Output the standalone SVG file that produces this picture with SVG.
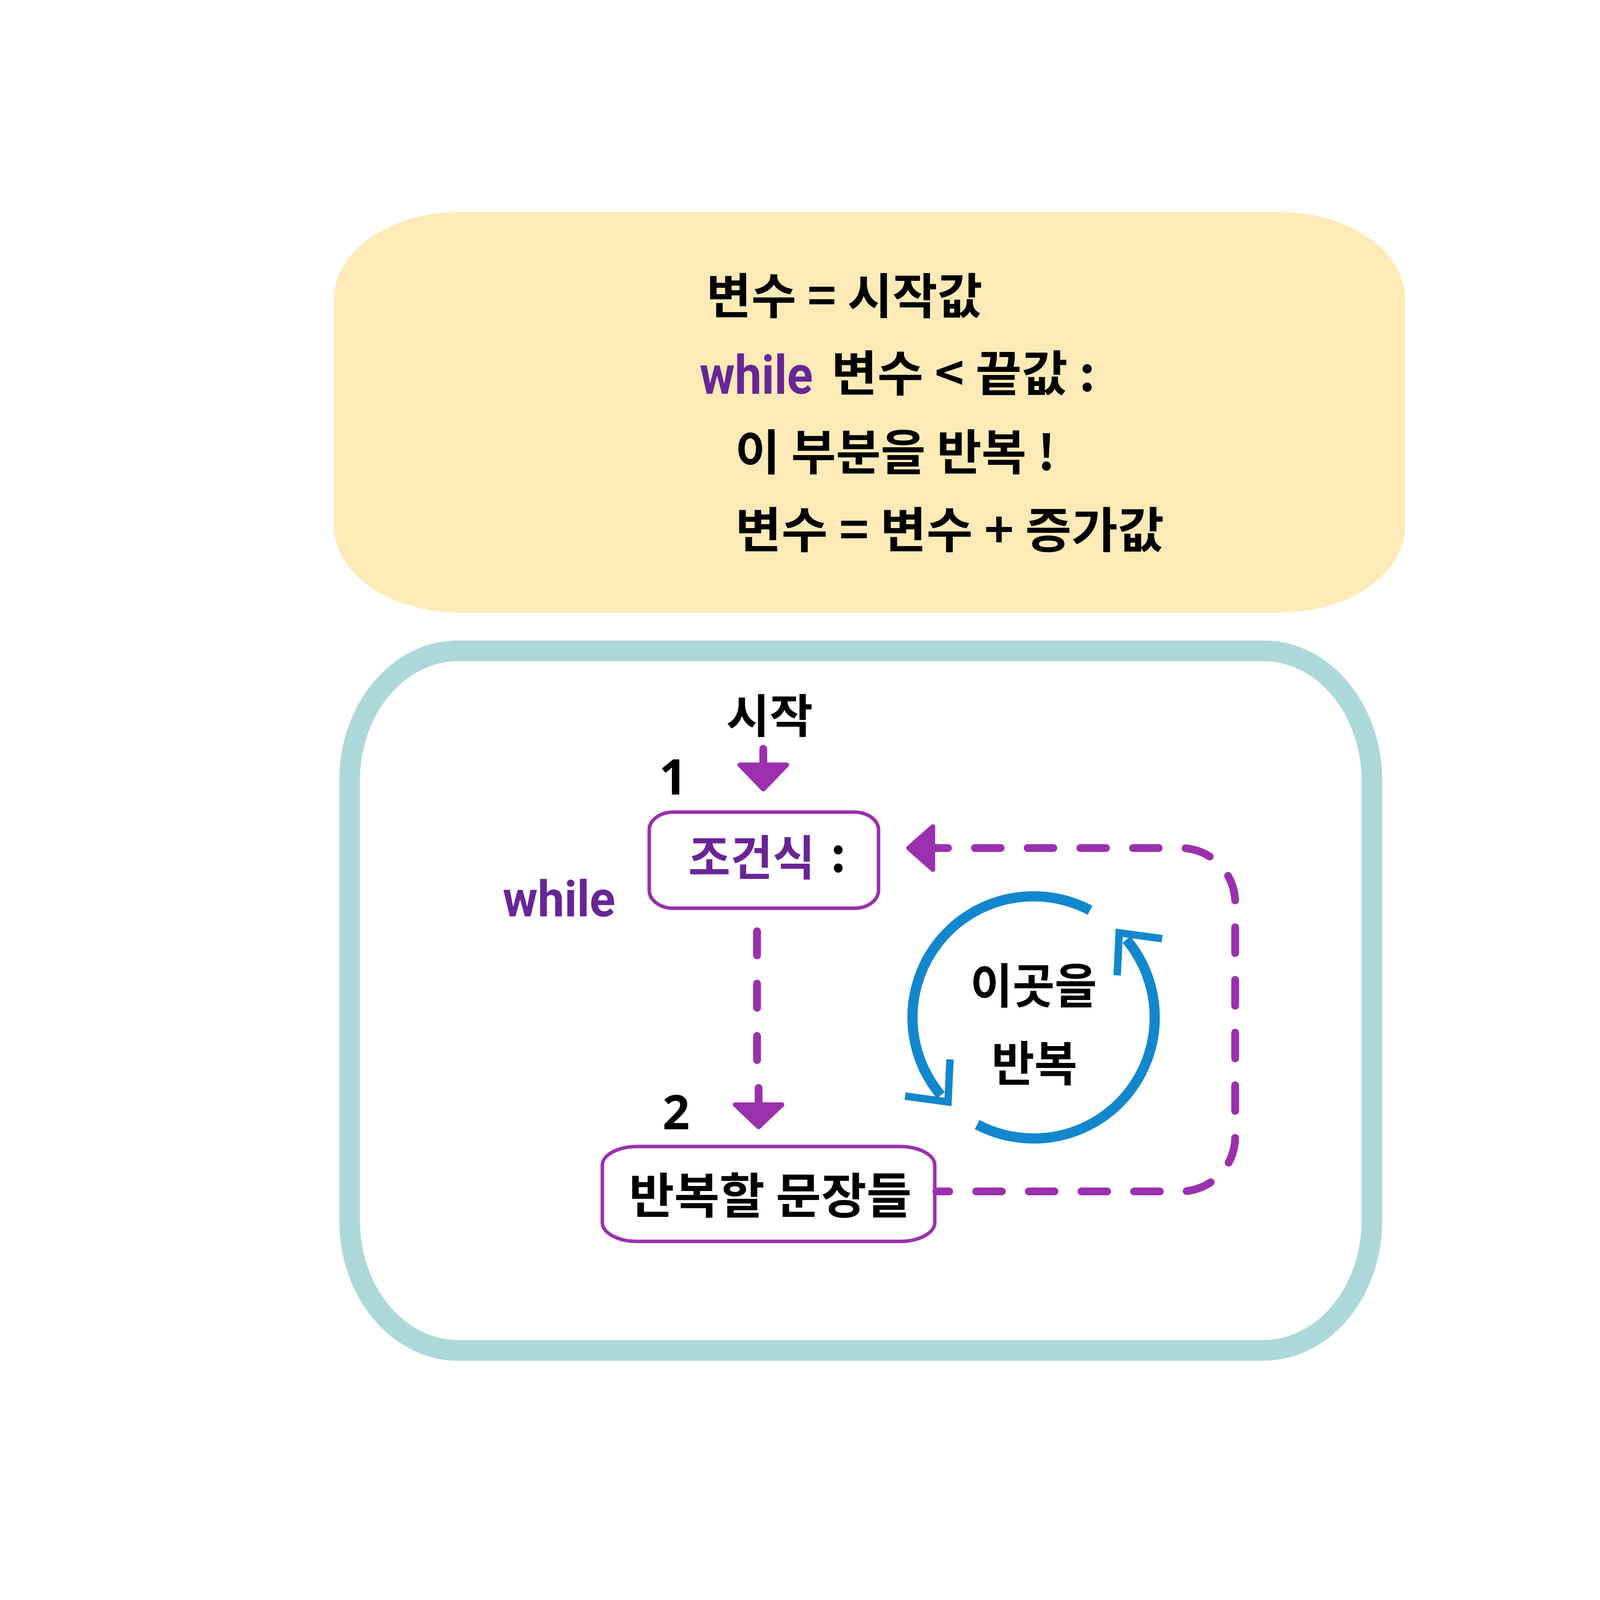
<svg xmlns="http://www.w3.org/2000/svg" width="4535" height="4535" viewBox="0 0 4535 4535">
<style>
.k{font-family:"Noto Sans CJK KR","Noto Sans",sans-serif;font-weight:700;fill:#000}
.pk{font-family:"Noto Sans CJK KR","Noto Sans",sans-serif;font-weight:700;fill:#682596}
.lat{font-family:Roboto,"Noto Sans","Liberation Sans",sans-serif;font-weight:700;fill:#682596}
.num{font-family:"Noto Sans","Liberation Sans",sans-serif;font-weight:700;fill:#000}
.box{fill:#fff;stroke:#9A30AE;stroke-width:9}
.dash{fill:none;stroke:#9A30AE;stroke-width:20;stroke-linecap:round;stroke-dasharray:66 68.8}
.stem{stroke:#9A30AE;stroke-width:20;stroke-linecap:round}
.head{fill:#9A30AE;stroke:#9A30AE;stroke-width:12;stroke-linejoin:round}
.arc{fill:none;stroke:#1287CE;stroke-width:26}
.chev{fill:none;stroke:#1287CE;stroke-width:19;stroke-linejoin:miter}
</style>
<rect width="4535" height="4535" fill="#fff"/>
<g id="code-box">
<rect x="855" y="543" width="2742" height="1025" rx="320" ry="222" fill="#FEEAB7"/>
<text class="k" x="1808" y="803" font-size="124" textLength="707" lengthAdjust="spacingAndGlyphs">변수 = 시작값</text>
<text class="lat" x="1791" y="1008" font-size="138" textLength="290" lengthAdjust="spacingAndGlyphs">while</text>
<text class="k" x="2128" y="1001" font-size="124" textLength="676" lengthAdjust="spacingAndGlyphs">변수 &lt; 끝값 :</text>
<text class="k" x="1882" y="1203" font-size="124" textLength="820" lengthAdjust="spacingAndGlyphs">이 부분을 반복 !</text>
<text class="k" x="1882" y="1402" font-size="124" textLength="1098" lengthAdjust="spacingAndGlyphs">변수 = 변수 + 증가값</text>
</g>
<g id="frame">
<rect x="895" y="1666" width="2617" height="1791" rx="278" ry="332" fill="#fff" stroke="#ADD8DA" stroke-width="53"/>
</g>
<g id="start-label">
<text class="k" x="1859" y="1876" font-size="118" textLength="222" lengthAdjust="spacingAndGlyphs">시작</text>
</g>
<g id="step1-label">
<text class="num" x="1723" y="2034" font-size="126" text-anchor="middle">1</text>
</g>
<g id="step2-label">
<text class="num" x="1731" y="2891" font-size="122" text-anchor="middle">2</text>
</g>
<g id="while-label">
<text class="lat" x="1287" y="2346" font-size="128" textLength="288" lengthAdjust="spacingAndGlyphs">while</text>
</g>
<g id="condition-node">
<rect class="box" x="1662" y="2079" width="587" height="246" rx="62" ry="46"/>
<text class="pk" x="1762" y="2240" font-size="122" textLength="324" lengthAdjust="spacingAndGlyphs">조건식</text>
<text class="k" x="2126" y="2232" font-size="122">:</text>
</g>
<g id="body-node">
<rect class="box" x="1542" y="2935" width="851" height="243" rx="90" ry="48"/>
<text class="k" x="1610" y="3106" font-size="124" textLength="724" lengthAdjust="spacingAndGlyphs">반복할 문장들</text>
</g>
<g id="repeat-cycle">
<path class="arc" d="M2790.6,2330.3 A310,310 0 0 0 2408.5,2803.8"/>
<path class="arc" d="M2501.4,2878.7 A310,310 0 0 0 2883.5,2405.2"/>
<polyline class="chev" points="2317,2806 2427,2821 2432,2712"/>
<polyline class="chev" points="2975,2403 2865,2388 2860,2497"/>
<text class="k" x="2484" y="2568" font-size="122" textLength="324" lengthAdjust="spacingAndGlyphs">이곳을</text>
<text class="k" x="2538" y="2767" font-size="122" textLength="220" lengthAdjust="spacingAndGlyphs">반복</text>
</g>
<g id="connectors">
<line class="stem" x1="1954" y1="1917" x2="1954" y2="1957"/>
<polygon class="head" points="1894,1958 2014,1958 1954,2020"/>
<path class="dash" d="M1938,2384 V2714" style="stroke-dasharray:62 72"/>
<line class="stem" x1="1942" y1="2785" x2="1942" y2="2827"/>
<polygon class="head" points="1882,2828 2002,2828 1942,2885"/>
<path class="dash" d="M2397,3050 H3022 A140,140 0 0 0 3162,2910 V2311 A140,140 0 0 0 3022,2171 H2394" stroke-dashoffset="33"/>
<polygon class="head" points="2388,2116 2388,2226 2326,2171"/>
</g>
</svg>
